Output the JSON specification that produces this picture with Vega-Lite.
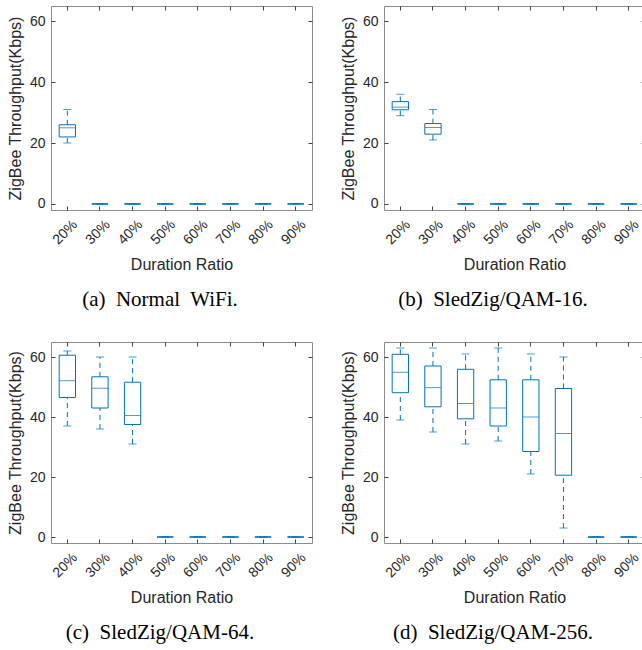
{
  "$schema": "https://vega.github.io/schema/vega-lite/v6.json",
  "padding": {"left": 6, "top": 5, "right": 0, "bottom": 0},
  "background": "white",
  "data": {"values": [
    {"panel": "a", "ratio": "20%", "lo": 20, "q1": 22, "med": 25, "q3": 26, "hi": 31},
    {"panel": "a", "ratio": "30%", "lo": 0, "q1": 0, "med": 0, "q3": 0, "hi": 0},
    {"panel": "a", "ratio": "40%", "lo": 0, "q1": 0, "med": 0, "q3": 0, "hi": 0},
    {"panel": "a", "ratio": "50%", "lo": 0, "q1": 0, "med": 0, "q3": 0, "hi": 0},
    {"panel": "a", "ratio": "60%", "lo": 0, "q1": 0, "med": 0, "q3": 0, "hi": 0},
    {"panel": "a", "ratio": "70%", "lo": 0, "q1": 0, "med": 0, "q3": 0, "hi": 0},
    {"panel": "a", "ratio": "80%", "lo": 0, "q1": 0, "med": 0, "q3": 0, "hi": 0},
    {"panel": "a", "ratio": "90%", "lo": 0, "q1": 0, "med": 0, "q3": 0, "hi": 0},
    {"panel": "b", "ratio": "20%", "lo": 29, "q1": 30.9, "med": 31.8, "q3": 33.6, "hi": 36},
    {"panel": "b", "ratio": "30%", "lo": 21, "q1": 22.9, "med": 25.1, "q3": 26.4, "hi": 31},
    {"panel": "b", "ratio": "40%", "lo": 0, "q1": 0, "med": 0, "q3": 0, "hi": 0},
    {"panel": "b", "ratio": "50%", "lo": 0, "q1": 0, "med": 0, "q3": 0, "hi": 0},
    {"panel": "b", "ratio": "60%", "lo": 0, "q1": 0, "med": 0, "q3": 0, "hi": 0},
    {"panel": "b", "ratio": "70%", "lo": 0, "q1": 0, "med": 0, "q3": 0, "hi": 0},
    {"panel": "b", "ratio": "80%", "lo": 0, "q1": 0, "med": 0, "q3": 0, "hi": 0},
    {"panel": "b", "ratio": "90%", "lo": 0, "q1": 0, "med": 0, "q3": 0, "hi": 0},
    {"panel": "c", "ratio": "20%", "lo": 37, "q1": 46.5, "med": 52.1, "q3": 60.6, "hi": 62},
    {"panel": "c", "ratio": "30%", "lo": 36, "q1": 43, "med": 49.6, "q3": 53.4, "hi": 60},
    {"panel": "c", "ratio": "40%", "lo": 31, "q1": 37.5, "med": 40.5, "q3": 51.6, "hi": 60},
    {"panel": "c", "ratio": "50%", "lo": 0, "q1": 0, "med": 0, "q3": 0, "hi": 0},
    {"panel": "c", "ratio": "60%", "lo": 0, "q1": 0, "med": 0, "q3": 0, "hi": 0},
    {"panel": "c", "ratio": "70%", "lo": 0, "q1": 0, "med": 0, "q3": 0, "hi": 0},
    {"panel": "c", "ratio": "80%", "lo": 0, "q1": 0, "med": 0, "q3": 0, "hi": 0},
    {"panel": "c", "ratio": "90%", "lo": 0, "q1": 0, "med": 0, "q3": 0, "hi": 0},
    {"panel": "d", "ratio": "20%", "lo": 39, "q1": 48.1, "med": 54.9, "q3": 60.9, "hi": 63},
    {"panel": "d", "ratio": "30%", "lo": 35, "q1": 43.4, "med": 49.8, "q3": 57, "hi": 63},
    {"panel": "d", "ratio": "40%", "lo": 31, "q1": 39.4, "med": 44.5, "q3": 55.9, "hi": 61},
    {"panel": "d", "ratio": "50%", "lo": 32, "q1": 37, "med": 43, "q3": 52.4, "hi": 63},
    {"panel": "d", "ratio": "60%", "lo": 21, "q1": 28.5, "med": 40, "q3": 52.4, "hi": 61},
    {"panel": "d", "ratio": "70%", "lo": 3, "q1": 20.6, "med": 34.5, "q3": 49.5, "hi": 60},
    {"panel": "d", "ratio": "80%", "lo": 0, "q1": 0, "med": 0, "q3": 0, "hi": 0},
    {"panel": "d", "ratio": "90%", "lo": 0, "q1": 0, "med": 0, "q3": 0, "hi": 0}
  ]},
  "vconcat": [
    {"hconcat": [
      {
        "width": 261, "height": 204,
        "transform": [{"filter": "datum.panel == 'a'"}],
        "title": {"text": "(a)\u00a0\u00a0Normal\u00a0 WiFi.", "orient": "bottom", "anchor": "middle", "frame": "bounds"},
        "resolve": {"axis": {"x": "independent", "y": "independent"}},
        "layer": [
          {"mark": {"type": "rule", "strokeDash": [5, 4], "color": "#0072BD"},
           "encoding": {
             "x": {"field": "ratio", "type": "ordinal", "sort": ["20%","30%","40%","50%","60%","70%","80%","90%"], "scale": {"paddingInner": 0.5, "paddingOuter": 0.25}, "axis": {"orient": "bottom", "title": "Duration Ratio", "labelAngle": -45, "labelAlign": "right", "labelBaseline": "middle", "labelPadding": 12, "labelOffset": 8, "titlePadding": 10}},
             "y": {"field": "lo", "type": "quantitative", "scale": {"domain": [-2, 65], "nice": false, "zero": false}, "axis": {"orient": "left", "title": "ZigBee Throughput(Kbps)", "values": [0, 20, 40, 60], "labelPadding": 6, "titlePadding": 6}},
             "y2": {"field": "q1"}}},
          {"mark": {"type": "rule", "strokeDash": [5, 4], "color": "#0072BD"},
           "encoding": {"x": {"field": "ratio", "type": "ordinal", "sort": ["20%","30%","40%","50%","60%","70%","80%","90%"], "axis": null}, "y": {"field": "q3", "type": "quantitative", "axis": null}, "y2": {"field": "hi"}}},
          {"mark": {"type": "tick", "size": 8, "thickness": 1, "color": "#0072BD"},
           "encoding": {"x": {"field": "ratio", "type": "ordinal", "sort": ["20%","30%","40%","50%","60%","70%","80%","90%"], "axis": null}, "y": {"field": "lo", "type": "quantitative", "axis": null}}},
          {"mark": {"type": "tick", "size": 8, "thickness": 1, "color": "#0072BD"},
           "encoding": {"x": {"field": "ratio", "type": "ordinal", "sort": ["20%","30%","40%","50%","60%","70%","80%","90%"], "axis": null}, "y": {"field": "hi", "type": "quantitative", "axis": null}}},
          {"mark": {"type": "bar", "fill": "transparent", "stroke": "#0072BD", "strokeWidth": 1},
           "encoding": {"x": {"field": "ratio", "type": "ordinal", "sort": ["20%","30%","40%","50%","60%","70%","80%","90%"], "axis": null}, "y": {"field": "q1", "type": "quantitative", "axis": null}, "y2": {"field": "q3"}}},
          {"mark": {"type": "tick", "size": 16, "thickness": 1, "color": "#0072BD"},
           "encoding": {"x": {"field": "ratio", "type": "ordinal", "sort": ["20%","30%","40%","50%","60%","70%","80%","90%"], "axis": {"orient": "top", "labels": false, "title": null}}, "y": {"field": "med", "type": "quantitative", "axis": {"orient": "right", "labels": false, "title": null, "values": [0, 20, 40, 60]}}}}
        ]
      },
      {
        "width": 261, "height": 204,
        "transform": [{"filter": "datum.panel == 'b'"}],
        "title": {"text": "(b)\u00a0\u00a0SledZig/QAM-16.", "orient": "bottom", "anchor": "middle", "frame": "bounds"},
        "resolve": {"axis": {"x": "independent", "y": "independent"}},
        "layer": [
          {"mark": {"type": "rule", "strokeDash": [5, 4], "color": "#0072BD"},
           "encoding": {
             "x": {"field": "ratio", "type": "ordinal", "sort": ["20%","30%","40%","50%","60%","70%","80%","90%"], "scale": {"paddingInner": 0.5, "paddingOuter": 0.25}, "axis": {"orient": "bottom", "title": "Duration Ratio", "labelAngle": -45, "labelAlign": "right", "labelBaseline": "middle", "labelPadding": 12, "labelOffset": 8, "titlePadding": 10}},
             "y": {"field": "lo", "type": "quantitative", "scale": {"domain": [-2, 65], "nice": false, "zero": false}, "axis": {"orient": "left", "title": "ZigBee Throughput(Kbps)", "values": [0, 20, 40, 60], "labelPadding": 6, "titlePadding": 6}},
             "y2": {"field": "q1"}}},
          {"mark": {"type": "rule", "strokeDash": [5, 4], "color": "#0072BD"},
           "encoding": {"x": {"field": "ratio", "type": "ordinal", "sort": ["20%","30%","40%","50%","60%","70%","80%","90%"], "axis": null}, "y": {"field": "q3", "type": "quantitative", "axis": null}, "y2": {"field": "hi"}}},
          {"mark": {"type": "tick", "size": 8, "thickness": 1, "color": "#0072BD"},
           "encoding": {"x": {"field": "ratio", "type": "ordinal", "sort": ["20%","30%","40%","50%","60%","70%","80%","90%"], "axis": null}, "y": {"field": "lo", "type": "quantitative", "axis": null}}},
          {"mark": {"type": "tick", "size": 8, "thickness": 1, "color": "#0072BD"},
           "encoding": {"x": {"field": "ratio", "type": "ordinal", "sort": ["20%","30%","40%","50%","60%","70%","80%","90%"], "axis": null}, "y": {"field": "hi", "type": "quantitative", "axis": null}}},
          {"mark": {"type": "bar", "fill": "transparent", "stroke": "#0072BD", "strokeWidth": 1},
           "encoding": {"x": {"field": "ratio", "type": "ordinal", "sort": ["20%","30%","40%","50%","60%","70%","80%","90%"], "axis": null}, "y": {"field": "q1", "type": "quantitative", "axis": null}, "y2": {"field": "q3"}}},
          {"mark": {"type": "tick", "size": 16, "thickness": 1, "color": "#0072BD"},
           "encoding": {"x": {"field": "ratio", "type": "ordinal", "sort": ["20%","30%","40%","50%","60%","70%","80%","90%"], "axis": {"orient": "top", "labels": false, "title": null}}, "y": {"field": "med", "type": "quantitative", "axis": {"orient": "right", "labels": false, "title": null, "values": [0, 20, 40, 60]}}}}
        ]
      }
    ]},
    {"hconcat": [
      {
        "width": 261, "height": 201,
        "transform": [{"filter": "datum.panel == 'c'"}],
        "title": {"text": "(c)\u00a0\u00a0SledZig/QAM-64.", "orient": "bottom", "anchor": "middle", "frame": "bounds"},
        "resolve": {"axis": {"x": "independent", "y": "independent"}},
        "layer": [
          {"mark": {"type": "rule", "strokeDash": [5, 4], "color": "#0072BD"},
           "encoding": {
             "x": {"field": "ratio", "type": "ordinal", "sort": ["20%","30%","40%","50%","60%","70%","80%","90%"], "scale": {"paddingInner": 0.5, "paddingOuter": 0.25}, "axis": {"orient": "bottom", "title": "Duration Ratio", "labelAngle": -45, "labelAlign": "right", "labelBaseline": "middle", "labelPadding": 12, "labelOffset": 8, "titlePadding": 10}},
             "y": {"field": "lo", "type": "quantitative", "scale": {"domain": [-2, 65], "nice": false, "zero": false}, "axis": {"orient": "left", "title": "ZigBee Throughput(Kbps)", "values": [0, 20, 40, 60], "labelPadding": 6, "titlePadding": 6}},
             "y2": {"field": "q1"}}},
          {"mark": {"type": "rule", "strokeDash": [5, 4], "color": "#0072BD"},
           "encoding": {"x": {"field": "ratio", "type": "ordinal", "sort": ["20%","30%","40%","50%","60%","70%","80%","90%"], "axis": null}, "y": {"field": "q3", "type": "quantitative", "axis": null}, "y2": {"field": "hi"}}},
          {"mark": {"type": "tick", "size": 8, "thickness": 1, "color": "#0072BD"},
           "encoding": {"x": {"field": "ratio", "type": "ordinal", "sort": ["20%","30%","40%","50%","60%","70%","80%","90%"], "axis": null}, "y": {"field": "lo", "type": "quantitative", "axis": null}}},
          {"mark": {"type": "tick", "size": 8, "thickness": 1, "color": "#0072BD"},
           "encoding": {"x": {"field": "ratio", "type": "ordinal", "sort": ["20%","30%","40%","50%","60%","70%","80%","90%"], "axis": null}, "y": {"field": "hi", "type": "quantitative", "axis": null}}},
          {"mark": {"type": "bar", "fill": "transparent", "stroke": "#0072BD", "strokeWidth": 1},
           "encoding": {"x": {"field": "ratio", "type": "ordinal", "sort": ["20%","30%","40%","50%","60%","70%","80%","90%"], "axis": null}, "y": {"field": "q1", "type": "quantitative", "axis": null}, "y2": {"field": "q3"}}},
          {"mark": {"type": "tick", "size": 16, "thickness": 1, "color": "#0072BD"},
           "encoding": {"x": {"field": "ratio", "type": "ordinal", "sort": ["20%","30%","40%","50%","60%","70%","80%","90%"], "axis": {"orient": "top", "labels": false, "title": null}}, "y": {"field": "med", "type": "quantitative", "axis": {"orient": "right", "labels": false, "title": null, "values": [0, 20, 40, 60]}}}}
        ]
      },
      {
        "width": 261, "height": 201,
        "transform": [{"filter": "datum.panel == 'd'"}],
        "title": {"text": "(d)\u00a0\u00a0SledZig/QAM-256.", "orient": "bottom", "anchor": "middle", "frame": "bounds"},
        "resolve": {"axis": {"x": "independent", "y": "independent"}},
        "layer": [
          {"mark": {"type": "rule", "strokeDash": [5, 4], "color": "#0072BD"},
           "encoding": {
             "x": {"field": "ratio", "type": "ordinal", "sort": ["20%","30%","40%","50%","60%","70%","80%","90%"], "scale": {"paddingInner": 0.5, "paddingOuter": 0.25}, "axis": {"orient": "bottom", "title": "Duration Ratio", "labelAngle": -45, "labelAlign": "right", "labelBaseline": "middle", "labelPadding": 12, "labelOffset": 8, "titlePadding": 10}},
             "y": {"field": "lo", "type": "quantitative", "scale": {"domain": [-2, 65], "nice": false, "zero": false}, "axis": {"orient": "left", "title": "ZigBee Throughput(Kbps)", "values": [0, 20, 40, 60], "labelPadding": 6, "titlePadding": 6}},
             "y2": {"field": "q1"}}},
          {"mark": {"type": "rule", "strokeDash": [5, 4], "color": "#0072BD"},
           "encoding": {"x": {"field": "ratio", "type": "ordinal", "sort": ["20%","30%","40%","50%","60%","70%","80%","90%"], "axis": null}, "y": {"field": "q3", "type": "quantitative", "axis": null}, "y2": {"field": "hi"}}},
          {"mark": {"type": "tick", "size": 8, "thickness": 1, "color": "#0072BD"},
           "encoding": {"x": {"field": "ratio", "type": "ordinal", "sort": ["20%","30%","40%","50%","60%","70%","80%","90%"], "axis": null}, "y": {"field": "lo", "type": "quantitative", "axis": null}}},
          {"mark": {"type": "tick", "size": 8, "thickness": 1, "color": "#0072BD"},
           "encoding": {"x": {"field": "ratio", "type": "ordinal", "sort": ["20%","30%","40%","50%","60%","70%","80%","90%"], "axis": null}, "y": {"field": "hi", "type": "quantitative", "axis": null}}},
          {"mark": {"type": "bar", "fill": "transparent", "stroke": "#0072BD", "strokeWidth": 1},
           "encoding": {"x": {"field": "ratio", "type": "ordinal", "sort": ["20%","30%","40%","50%","60%","70%","80%","90%"], "axis": null}, "y": {"field": "q1", "type": "quantitative", "axis": null}, "y2": {"field": "q3"}}},
          {"mark": {"type": "tick", "size": 16, "thickness": 1, "color": "#0072BD"},
           "encoding": {"x": {"field": "ratio", "type": "ordinal", "sort": ["20%","30%","40%","50%","60%","70%","80%","90%"], "axis": {"orient": "top", "labels": false, "title": null}}, "y": {"field": "med", "type": "quantitative", "axis": {"orient": "right", "labels": false, "title": null, "values": [0, 20, 40, 60]}}}}
        ]
      }
    ]}
  ],
  "spacing": 30,
  "config": {
    "concat": {"spacing": 26},
    "view": {"stroke": "#8c8c8c", "strokeWidth": 1},
    "axis": {"grid": false, "domain": false, "offset": -4, "tickSize": 4, "tickColor": "#404040", "tickWidth": 1, "labelFont": "Liberation Sans", "labelFontSize": 14, "labelColor": "#262626", "titleFont": "Liberation Sans", "titleFontSize": 16, "titleFontWeight": "normal", "titleColor": "#262626"},
    "title": {"font": "Liberation Serif", "fontSize": 21, "fontWeight": "normal", "color": "black", "offset": 16}
  }
}
